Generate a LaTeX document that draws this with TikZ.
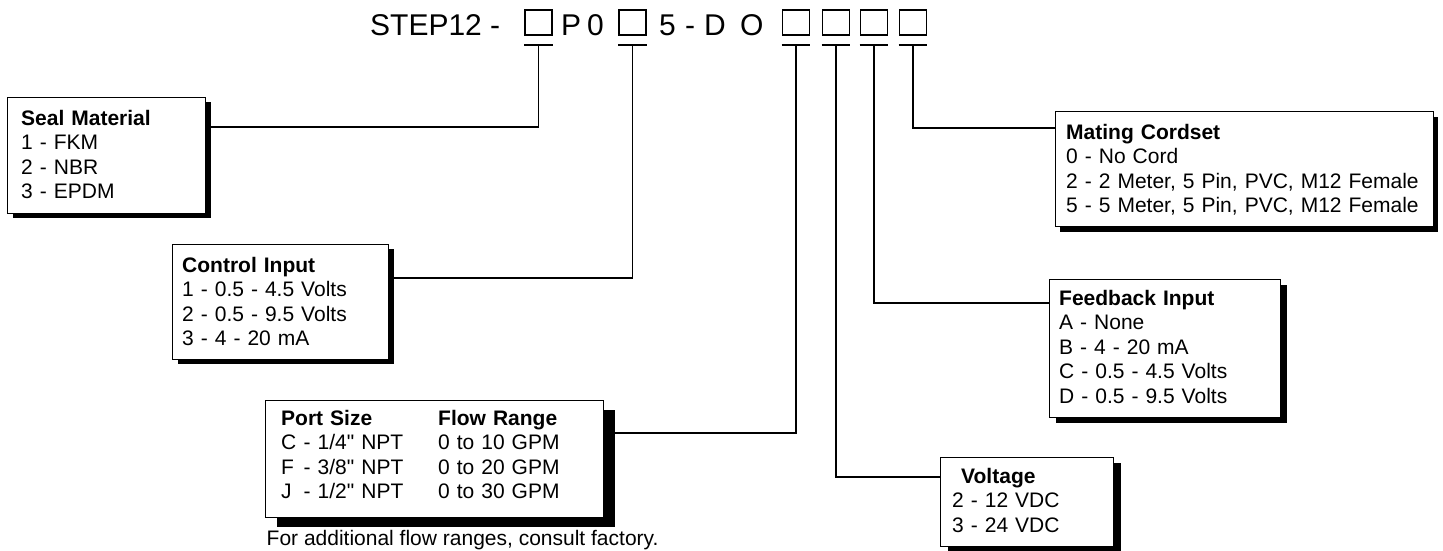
\documentclass[tikz,border=0pt]{standalone}
\usepackage{fontspec}
\setmainfont{Liberation Sans}[Ligatures=TeXOff]
\newcommand{\optbox}[7]{%
  \node[shadowbox, minimum width=#4pt, minimum height=#5pt] (#1sh) at (#2+#6, #3+#7) {};
  \node[box, minimum width=#4pt, minimum height=#5pt] (#1) at (#2,#3) {};
}
\begin{document}
\begin{tikzpicture}[x=1pt,y=-1pt,
  box/.style={draw=black, line width=1.3pt, fill=white, inner sep=0pt, anchor=north west},
  shadowbox/.style={fill=black, draw=none, inner sep=0pt, anchor=north west},
  conn/.style={line width=1.8pt, line cap=rect},
  sq/.style={draw=black, line width=1.8pt, minimum width=27pt, minimum height=25pt, inner sep=0pt},
  body/.style={font=\fontsize{21}{24.6}\selectfont, align=left, anchor=base west, inner sep=0pt, text width=380pt},
  ttl/.style={font=\fontsize{30}{36}\selectfont, anchor=base west, inner sep=0pt}]
\useasboundingbox (0,0) rectangle (1443,550);

% title
\node[ttl] (tstep) at (370,35) {STEP12 -};
\node[sq] (sq1) at (538.5,22.5) {};
\node[ttl] (tP) at (561,35) {P};
\node[ttl] (t0) at (587,35) {0};
\node[sq] (sq2) at (632.5,22.5) {};
\node[ttl] (t5) at (659,35) {5};
\node[ttl] (tdash) at (685,35) {-};
\node[ttl] (tD) at (704,35) {D};
\node[ttl] (tO) at (740,35) {O};
\node[sq] (sq3) at (796,22.5) {};
\node[sq] (sq4) at (836,22.5) {};
\node[sq] (sq5) at (874,22.5) {};
\node[sq] (sq6) at (913,22.5) {};

% T bars
\foreach \s in {sq1,sq2,sq3,sq4,sq5,sq6}{
  \draw[line width=1.8pt] ([yshift=-9pt]\s.south west) -- ([yshift=-9pt]\s.south east);
}

% boxes with shadows
\optbox{seal}{7}{97}{198}{116}{6}{5}
\optbox{control}{172}{244}{216}{115}{6}{5}
\optbox{port}{265}{400}{338}{117}{12}{10}
\optbox{mating}{1055}{111}{378}{115}{5}{6}
\optbox{feed}{1049}{279}{231}{138}{7}{6}
\optbox{volt}{940}{457}{173}{89}{8}{6}

% connectors
\draw[conn] ([yshift=-9pt]sq1.south) |- ([yshift=-25pt]sealsh.north east);
\draw[conn] ([yshift=-9pt]sq2.south) |- ([yshift=-29pt]controlsh.north east);
\draw[conn] ([yshift=-9pt]sq3.south) |- ([yshift=-23pt]portsh.north east);
\draw[conn] ([yshift=-9pt]sq4.south) |- ([yshift=-20pt]volt.north west);
\draw[conn] ([yshift=-9pt]sq5.south) |- ([yshift=-24pt]feed.north west);
\draw[conn] ([yshift=-9pt]sq6.south) |- ([yshift=-17pt]mating.north west);

% texts
\node[body] (sealtxt) at (21,125) {\textbf{Seal Material}\\1 - FKM\\2 - NBR\\3 - EPDM};
\node[body] (controltxt) at (182,272) {\textbf{Control Input}\\1 - 0.5 - 4.5 Volts\\2 - 0.5 - 9.5 Volts\\3 - 4 - 20 mA};
\node[body] (porttxt) at (281,425) {\makebox[157pt][l]{\textbf{Port Size}}\textbf{Flow Range}\\
  \makebox[157pt][l]{\makebox[22.5pt][l]{C}- 1/4" NPT}0 to 10 GPM\\
  \makebox[157pt][l]{\makebox[22.5pt][l]{F}- 3/8" NPT}0 to 20 GPM\\
  \makebox[157pt][l]{\makebox[22.5pt][l]{J}- 1/2" NPT}0 to 30 GPM};
\node[anchor=base west, font=\fontsize{21}{24}\selectfont, inner sep=0pt] (note) at (266.5,545) {For additional flow ranges, consult factory.};
\node[body] (matingtxt) at (1066,139) {\textbf{Mating Cordset}\\0 - No Cord\\2 - 2 Meter, 5 Pin, PVC, M12 Female\\5 - 5 Meter, 5 Pin, PVC, M12 Female};
\node[body] (feedtxt) at (1059,305) {\textbf{Feedback Input}\\A - None\\B - 4 - 20 mA\\C - 0.5 - 4.5 Volts\\D - 0.5 - 9.5 Volts};
\node[body] (volttxt) at (952,483) {\hspace*{9pt}\textbf{Voltage}\\2 - 12 VDC\\3 - 24 VDC};
\end{tikzpicture}
\end{document}
